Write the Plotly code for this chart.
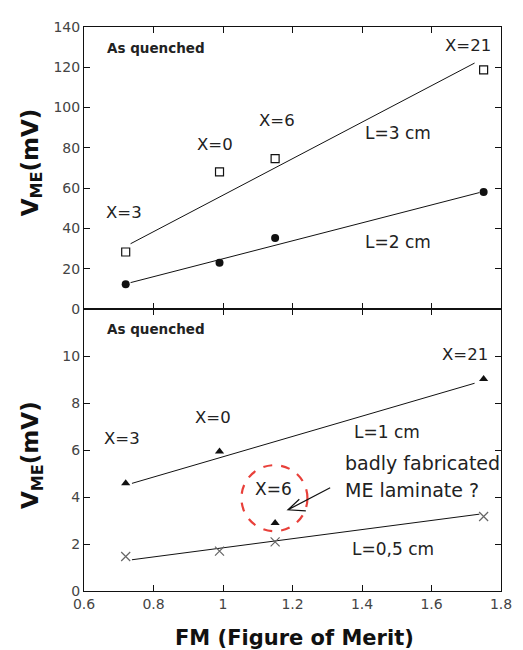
import plotly.graph_objects as go
from plotly.subplots import make_subplots

# ---- data ----
fm = [0.72, 0.99, 1.15, 1.75]
v_l3 = [28.3, 68.1, 74.7, 118.7]   # L = 3 cm (open squares)
v_l2 = [12.3, 22.9, 35.2, 58.1]    # L = 2 cm (filled circles)
v_l1 = [4.58, 5.94, 2.89, 9.02]    # L = 1 cm (filled triangles)
v_l05 = [1.47, 1.70, 2.09, 3.17]   # L = 0,5 cm (crosses)

fit_x_l3 = [0.734, 1.724]
fit_y_l3 = [32.4, 122.1]
fit_x_l2 = [0.734, 1.738]
fit_y_l2 = [13.1, 57.8]
fit_x_l1 = [0.738, 1.724]
fit_y_l1 = [4.58, 8.84]
fit_x_l05 = [0.738, 1.738]
fit_y_l05 = [1.33, 3.27]

x_ticks = [0.6, 0.8, 1.0, 1.2, 1.4, 1.6, 1.8]
x_ticktext = ["0.6", "0.8", "1", "1.2", "1.4", "1.6", "1.8"]
y_top_ticks = [0, 20, 40, 60, 80, 100, 120, 140]
y_bot_ticks = [0, 2, 4, 6, 8, 10]

FONT = "DejaVu Sans"
TXT = "#222222"

fig = make_subplots(rows=2, cols=1, shared_xaxes=True, vertical_spacing=0)

line_style = dict(color="#111111", width=1)
fig.add_trace(go.Scatter(x=fit_x_l3, y=fit_y_l3, mode="lines", line=line_style), row=1, col=1)
fig.add_trace(go.Scatter(x=fit_x_l2, y=fit_y_l2, mode="lines", line=line_style), row=1, col=1)
fig.add_trace(go.Scatter(x=fm, y=v_l3, mode="markers",
                         marker=dict(symbol="square-open", size=8, color="#111111",
                                     line=dict(width=1.2))), row=1, col=1)
fig.add_trace(go.Scatter(x=fm, y=v_l2, mode="markers",
                         marker=dict(symbol="circle", size=8, color="#111111")), row=1, col=1)

fig.add_trace(go.Scatter(x=fit_x_l1, y=fit_y_l1, mode="lines", line=line_style), row=2, col=1)
fig.add_trace(go.Scatter(x=fit_x_l05, y=fit_y_l05, mode="lines", line=line_style), row=2, col=1)
fig.add_trace(go.Scatter(x=fm, y=v_l1, mode="markers",
                         marker=dict(symbol="triangle-up", size=8, color="#111111")), row=2, col=1)
fig.add_trace(go.Scatter(x=fm, y=v_l05, mode="markers",
                         marker=dict(symbol="x-thin-open", size=9, color="#666666",
                                     line=dict(width=1.2, color="#666666"))), row=2, col=1)

axis_common = dict(showline=True, linecolor="#111111", linewidth=1, mirror="ticks",
                   ticks="inside", ticklen=6, tickcolor="#111111", showgrid=False,
                   zeroline=False, tickfont=dict(family=FONT, size=14, color="#444444"))

fig.update_xaxes(range=[0.6, 1.8], tickvals=x_ticks, ticktext=x_ticktext, **axis_common)
fig.update_xaxes(showticklabels=False, row=1, col=1)
fig.update_xaxes(ticklabeloverflow="allow", row=2, col=1)
fig.update_yaxes(range=[0, 140], tickvals=y_top_ticks, domain=[0.5, 1.0], row=1, col=1, **axis_common)
fig.update_yaxes(range=[0, 12], tickvals=y_bot_ticks, domain=[0.0, 0.5], row=2, col=1, **axis_common)

ann = []
def txt(x, y, s, size, xref="x", yref="y", xanchor="center", bold=False):
    ann.append(dict(x=x, y=y, xref=xref, yref=yref, text=f"<b>{s}</b>" if bold else s,
                    showarrow=False, xanchor=xanchor, yanchor="middle",
                    font=dict(family=FONT, size=size, color=TXT)))

# top panel labels
txt(0.659, 129.7, "As quenched", 13.5, xanchor="left", bold=True)
txt(1.705, 131.0, "X=21", 16.5)
txt(1.154, 93.5, "X=6", 16.5)
txt(0.977, 81.9, "X=0", 16.5)
txt(0.715, 48.0, "X=3", 16.5)
txt(1.505, 87.3, "L=3 cm", 17)
txt(1.505, 33.5, "L=2 cm", 17)

# bottom panel labels
txt(0.659, 11.13, "As quenched", 13.5, xref="x2", yref="y2", xanchor="left", bold=True)
txt(1.696, 10.05, "X=21", 16.5, xref="x2", yref="y2")
txt(0.972, 7.37, "X=0", 16.5, xref="x2", yref="y2")
txt(0.710, 6.50, "X=3", 16.5, xref="x2", yref="y2")
txt(1.472, 6.78, "L=1 cm", 17, xref="x2", yref="y2")
txt(1.344, 5.44, "badly fabricated", 19, xref="x2", yref="y2", xanchor="left")
txt(1.344, 4.28, "ME laminate ?", 19, xref="x2", yref="y2", xanchor="left")
txt(1.145, 4.35, "X=6", 17, xref="x2", yref="y2")
txt(1.490, 1.77, "L=0,5 cm", 17, xref="x2", yref="y2")

# axis titles
for yc in (0.761, 0.242):
    ann.append(dict(x=-0.126, y=yc, xref="paper", yref="paper", text="<b>V<sub>ME</sub>(mV)</b>",
                    showarrow=False, textangle=-90, xanchor="center", yanchor="middle",
                    font=dict(family=FONT, size=23, color="#111111")))
ann.append(dict(x=0.505, y=-0.0825, xref="paper", yref="paper", text="<b>FM (Figure of Merit)</b>",
                showarrow=False, xanchor="center", yanchor="middle",
                font=dict(family=FONT, size=21, color="#111111")))

fig.update_layout(annotations=ann)

# red dashed circle and open arrow
fig.add_shape(type="circle", xref="x2", yref="y2", xsizemode="pixel", ysizemode="pixel",
              xanchor=1.148, yanchor=3.95, x0=-33, x1=33, y0=-33, y1=33,
              line=dict(color="#e8403a", width=2.2, dash="dash"))
fig.add_shape(type="path", xref="x2", yref="y2",
              path="M 1.3084 4.392 L 1.1868 3.453 M 1.2196 3.903 L 1.1868 3.453 L 1.2384 3.411",
              line=dict(color="#111111", width=1.2))

# the page body adds an 8px margin, so the figure is 8px smaller and offset to compensate
fig.update_layout(width=515, height=642, margin=dict(l=76, r=11, t=13, b=59),
                  showlegend=False, plot_bgcolor="white", paper_bgcolor="white")

fig.write_html("out.html")
